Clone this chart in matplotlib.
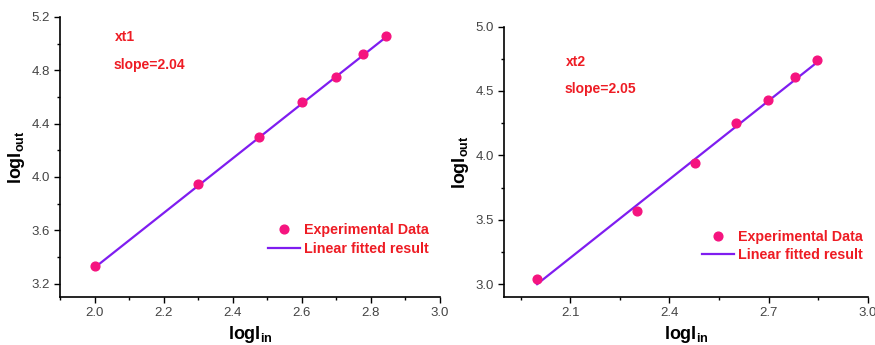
import numpy as np
import matplotlib
matplotlib.use("Agg")
import matplotlib.pyplot as plt
from matplotlib.ticker import MultipleLocator

plt.rcParams['font.family'] = ['Liberation Sans', 'DejaVu Sans']
plt.rcParams['mathtext.fontset'] = 'custom'
plt.rcParams['mathtext.rm'] = 'Liberation Sans'
plt.rcParams['mathtext.bf'] = 'Liberation Sans:bold'

# --- date ---
log_in = [2.0, 2.301, 2.477, 2.602, 2.699, 2.778, 2.845]

xt1_out = [3.33, 3.95, 4.30, 4.56, 4.75, 4.92, 5.06]
xt1_fit_x = [2.0, 2.845]
xt1_fit_y = [3.32, 5.05]

xt2_out = [3.04, 3.57, 3.94, 4.25, 4.43, 4.61, 4.74]
xt2_fit_x = [2.0, 2.845]
xt2_fit_y = [3.00, 4.72]

culoare_pct = '#f5147f'
culoare_fit = '#7f1df0'
culoare_txt = '#ee1c24'

fig = plt.figure(figsize=(8.75, 3.45), dpi=100)
ax1 = fig.add_axes([0.0686, 0.139, 0.434, 0.812])
ax2 = fig.add_axes([0.576, 0.139, 0.416, 0.784])


def deseneaza(ax, y, fx, fy, nume, panta, ylim, ymaj, ymin, xmin, xticks, txt_pos, leg_pos):
    ax.plot(fx, fy, color=culoare_fit, lw=1.6, label='Linear fitted result', zorder=2)
    ax.plot(log_in, y, 'o', color=culoare_pct, ms=6.3, label='Experimental Data', zorder=3)
    ax.set_xlim(1.9, 3.0)
    ax.set_ylim(*ylim)
    ax.set_xticks(xticks)
    ax.xaxis.set_minor_locator(MultipleLocator(xmin))
    ax.yaxis.set_major_locator(MultipleLocator(ymaj))
    ax.yaxis.set_minor_locator(MultipleLocator(ymin))
    ax.xaxis.set_major_formatter(plt.FormatStrFormatter('%.1f'))
    ax.yaxis.set_major_formatter(plt.FormatStrFormatter('%.1f'))
    for s in ['top', 'right']:
        ax.spines[s].set_visible(False)
    for s in ['left', 'bottom']:
        ax.spines[s].set_linewidth(1.2)
    ax.tick_params(which='major', direction='out', length=4, width=1.0,
                   labelsize=9.5, labelcolor='#444444')
    ax.tick_params(which='minor', direction='out', length=2.5, width=1.0)
    ax.set_xlabel(r'logI$_{\mathbf{in}}$', fontsize=13, fontweight='bold', labelpad=3)
    ax.set_ylabel(r'logI$_{\mathbf{out}}$', fontsize=13, fontweight='bold', labelpad=3)
    ax.text(txt_pos[0], txt_pos[1], nume, transform=ax.transAxes, color=culoare_txt,
            fontsize=10, fontweight='bold', va='center')
    ax.text(txt_pos[0] - 0.005, txt_pos[1] - 0.1, panta, transform=ax.transAxes,
            color=culoare_txt, fontsize=10, fontweight='bold', va='center')
    h, l = ax.get_legend_handles_labels()
    leg = ax.legend(h[::-1], l[::-1], loc='center left', bbox_to_anchor=leg_pos,
                    frameon=False, fontsize=10.3, handlelength=2.2, handletextpad=0.3,
                    labelspacing=0.3, borderpad=0)
    for t in leg.get_texts():
        t.set_color(culoare_txt)
        t.set_fontweight('bold')


deseneaza(ax1, xt1_out, xt1_fit_x, xt1_fit_y, 'xt1', 'slope=2.04',
          (3.1, 5.2), 0.4, 0.2, 0.1, [2.0, 2.2, 2.4, 2.6, 2.8, 3.0],
          (0.145, 0.93), (0.53, 0.205))
deseneaza(ax2, xt2_out, xt2_fit_x, xt2_fit_y, 'xt2', 'slope=2.05',
          (2.9, 5.0), 0.5, 0.25, 0.15, [2.1, 2.4, 2.7, 3.0],
          (0.17, 0.87), (0.525, 0.19))

plt.savefig('out.png', dpi=100)
